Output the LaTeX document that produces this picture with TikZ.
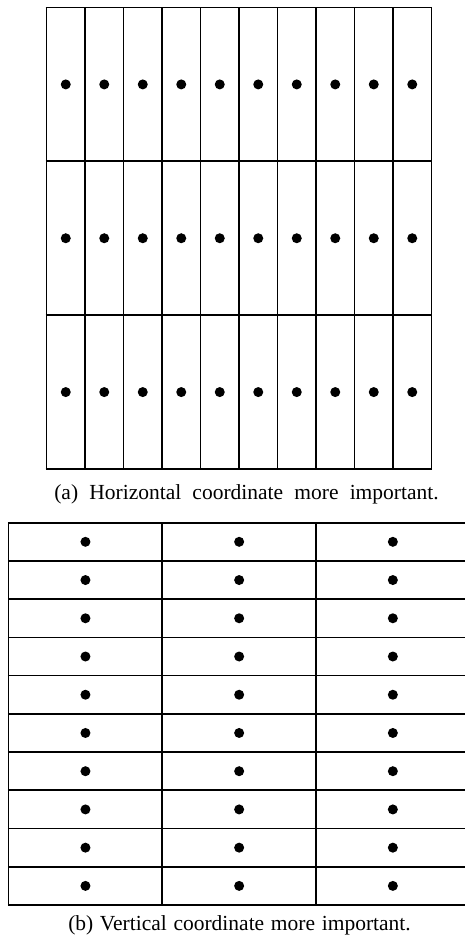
\documentclass[tikz,border=0pt]{standalone}
\usepackage{fontspec}
\setmainfont{Liberation Serif}
\begin{document}
\begin{tikzpicture}[x=1pt,y=-1pt,
  gridline/.style={line width=1.7pt,black},
  dotmark/.style={fill=black},
  caption/.style={anchor=base,inner sep=0pt,font=\fontsize{21.5}{26}\selectfont}]
\useasboundingbox (0,0) rectangle (465,945);
% top grid: 10 columns x 3 rows
\def\tx{46.5}\def\tw{38.5}\def\ty{7.5}\def\th{153.83}
\foreach \i in {0,...,10} \draw[gridline] (\tx+\i*\tw,\ty) -- (\tx+\i*\tw,\ty+3*\th);
\foreach \j in {0,...,3} \draw[gridline] (\tx-0.85,\ty+\j*\th) -- (\tx+10*\tw+0.85,\ty+\j*\th);
\foreach \i in {0,...,9} \foreach \j in {0,1,2}
  \fill[dotmark] (\tx+\i*\tw+\tw/2,\ty+\j*\th+\th/2) circle (5);
\node[caption] (capa) at (246.5,499) {(a)\hspace{0.52em}Horizontal\hspace{0.52em}coordinate\hspace{0.52em}more\hspace{0.52em}important.};
% bottom grid: 3 columns x 10 rows (right edge cut off)
\begin{scope}
\clip (0,0) rectangle (465,945);
\def\bx{8.6}\def\bw{153.7}\def\by{522.7}\def\bh{38.23}
\foreach \i in {0,...,3} \draw[gridline] (\bx+\i*\bw,\by) -- (\bx+\i*\bw,\by+10*\bh);
\foreach \j in {0,...,10} \draw[gridline] (\bx-0.85,\by+\j*\bh) -- (\bx+3*\bw+0.85,\by+\j*\bh);
\foreach \i in {0,1,2} \foreach \j in {0,...,9}
  \fill[dotmark] (\bx+\i*\bw+\bw/2,\by+\j*\bh+\bh/2) circle (5);
\end{scope}
\node[caption] (capb) at (239.5,930) {(b)\hspace{0.31em}Vertical\hspace{0.31em}coordinate\hspace{0.31em}more\hspace{0.31em}important.};
\end{tikzpicture}
\end{document}
